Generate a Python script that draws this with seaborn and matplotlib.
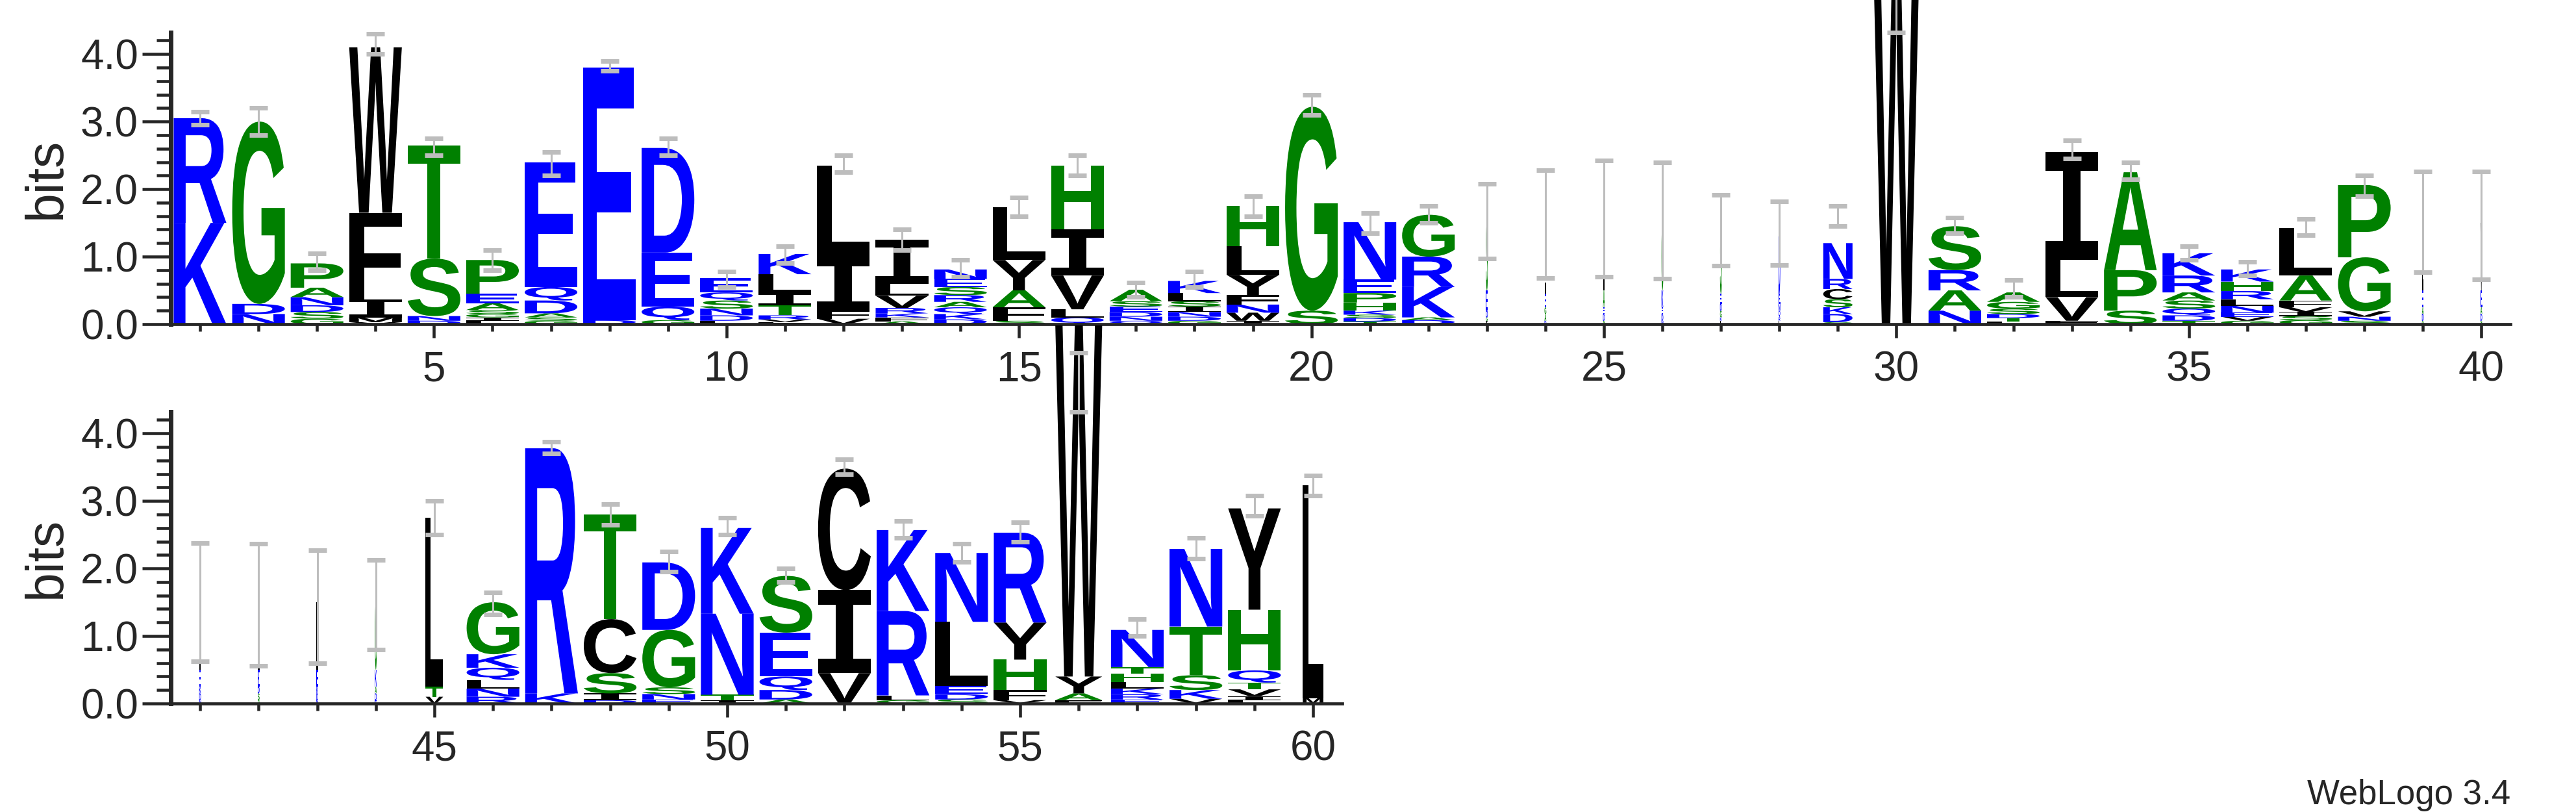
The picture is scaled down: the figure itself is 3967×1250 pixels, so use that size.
import matplotlib
matplotlib.use("Agg")
import matplotlib.pyplot as plt
import seaborn as sns
import numpy as np
from matplotlib.textpath import TextPath
from matplotlib.patches import PathPatch
from matplotlib.transforms import Affine2D
from matplotlib.font_manager import FontProperties, findfont

# --- DATA (letters bottom->top, heights in bits) ---
positions = list(range(1, 61))
stacks = ['KR', 'NDG', 'GSDNAP', 'VMIFW', 'DNST', 'LIGSAEP', 'GSADQE', 'DE', 'GQED', 'LDNSQE',
          'FVRTILK', 'VFIL', 'AFKRVLI', 'DKQARSEN', 'SFAYL', 'QLVIH', 'QNDESA', 'GDNISLK', 'IWNFYLH', 'SG',
          'TDSKHPEN', 'DAKRG', 'IGDES', 'DAGEL', 'SDEAL', 'NDEKG', 'LKGDES', 'LRQNED', 'GDKSCRN', 'W',
          'NARS', 'LTDSGA', 'FVLI', 'SPA', 'TDQSARK', 'GVENLRHK', 'GSIVFAL', 'SNVGP', 'GDAEL', 'SDAEV',
          'NDKEL', 'GSDEL', 'NDKEL', 'EDAKG', 'VTL', 'RNLQKG', 'KR', 'DISCT', 'ENSGD', 'ITNK',
          'ADQES', 'VIC', 'GLRK', 'SDELN', 'VFHYR', 'FAYW', 'ERKLHTN', 'VKSTN', 'LIVTQHY', 'ML']
heights = [[1.5, 1.55], [.15, .15, 2.7], [.08, .1, .1, .12, .14, .36], [.03, .07, .27, 1.28, 2.45],
           [.05, .07, .85, 1.68], [.05, .05, .05, .06, .1, .14, .5], [.05, .05, .06, .19, .2, 1.85],
           [.06, 3.74], [.06, .2, .8, 1.55], [.05, .08, .1, .12, .12, .21],
           [.03, .04, .06, .15, .18, .28, .3], [.08, .12, .8, 1.35], [.04, .06, .06, .08, .18, .18, .65],
           [.07, .08, .1, .08, .1, .12, .12, .14], [.05, .2, .25, .45, .78], [.1, .12, .5, .68, .95],
           [.05, .06, .07, .08, .08, .17], [.05, .06, .07, .08, .08, .12, .18],
           [.05, .12, .12, .14, .3, .42, .6], [.2, 3.02],
           [.04, .05, .05, .06, .12, .14, .2, .85], [.06, .04, .45, .45, .62],
           [.05, .05, .1, .3, 1.0], [.05, .1, .1, .2, 1.0], [.05, .1, .1, .25, 1.0], [.05, .1, .1, .25, 1.0],
           [.05, .05, .1, .1, .15, .9], [.05, .05, .1, .1, .15, .85],
           [.03, .12, .1, .12, .15, .15, .53], [5.6],
           [.2, .3, .3, .65], [.04, .05, .06, .08, .1, .14], [.05, .35, .55, 1.6], [.2, .6, 1.45],
           [.05, .08, .1, .12, .12, .25, .33], [.05, .06, .06, .1, .1, .12, .14, .18],
           [.06, .06, .06, .07, .1, .37, .7], [.05, .06, .08, .8, 1.07],
           [.05, .1, .1, .25, 1.0], [.05, .1, .1, .25, 1.0],
           [.05, .1, .1, .25, 1.0], [.05, .1, .1, .25, 1.0], [.05, .1, .1, .25, 1.0], [.05, .1, .1, .25, 1.0],
           [.1, .15, 2.5], [.1, .12, .13, .18, .2, .77], [.15, 3.63], [.05, .1, .3, .8, 1.55],
           [.06, .08, .1, .85, 1.0], [.05, .08, 1.2, 1.27], [.06, .14, .2, .65, .84], [.45, 1.23, 1.8],
           [.05, .07, 1.25, 1.2], [.06, .08, .12, .95, 1.02], [.05, .15, .45, .55, 1.33], [.05, .1, .25, 5.2],
           [.06, .08, .08, .1, .12, .1, .55], [.07, .13, .22, .72, 1.15], [.05, .06, .1, .1, .18, .9, 1.5],
           [.08, 3.15]]
col_widths = [.9] * 22 + [.03] * 6 + [.5, .8] + [.9] * 8 + [.03] * 6 + [.3] + [.9] * 10 + [.8, .9, .9, .9, .35]
err_lo = [2.95, 2.8, .8, 4.0, 2.5, .8, 2.2, 3.75, 2.5, .55, .9, 2.25, 1.1, .7, 1.6, 2.2, .4, .55, 1.6, 3.1,
          1.35, 1.5, .97, .68, .7, .67, .87, .88, 1.45, 4.32, 1.35, .4, 2.45, 2.15, .95, .72, 1.32, 1.9, .77, .66,
          .63, .56, .6, .8, 2.5, 1.32, 3.7, 2.65, 1.95, 2.5, 1.8, 3.4, 2.45, 2.1, 2.4, 4.32, 1.0, 2.15, 2.78, 3.08]
err_hi = [3.15, 3.2, 1.05, 4.3, 2.75, 1.1, 2.55, 3.9, 2.75, .78, 1.15, 2.5, 1.4, .95, 1.88, 2.5, .62, .78, 1.9, 3.4,
          1.65, 1.75, 2.08, 2.28, 2.42, 2.4, 1.91, 1.82, 1.75, 5.2, 1.58, .65, 2.72, 2.4, 1.15, .92, 1.56, 2.2, 2.26, 2.26,
          2.38, 2.37, 2.27, 2.13, 3.0, 1.65, 3.88, 2.95, 2.25, 2.75, 2.0, 3.62, 2.7, 2.37, 2.68, 5.2, 1.25, 2.45, 3.08, 3.38]

GREEN, BLUE, BLACK = '#008000', '#0000ff', '#000000'
colors = {}
for c in 'GSTAPH':
    colors[c] = GREEN
for c in 'KRDENQ':
    colors[c] = BLUE

sns.set_style('ticks')


def pick_font(names):
    for n in names:
        try:
            findfont(FontProperties(family=n), fallback_to_default=False)
            return n
        except Exception:
            pass
    return 'DejaVu Sans'


tick_font = pick_font(['Liberation Sans Narrow', 'Liberation Sans', 'DejaVu Sans'])
text_font = pick_font(['Liberation Sans', 'DejaVu Sans'])
plt.rcParams['font.family'] = [text_font, 'DejaVu Sans']
LETTER_FONT = FontProperties(family=text_font, weight='bold')
# the logo's I has serifs, a mono face gives that shape
SERIF_I_FONT = FontProperties(family='DejaVu Sans Mono', weight='bold')


def draw_letter(ax, ch, x, y, w, h, color):
    if h <= 0:
        return
    prop = SERIF_I_FONT if ch == 'I' else LETTER_FONT
    tp = TextPath((0, 0), ch, size=1, prop=prop)
    bb = tp.get_extents()
    tr = Affine2D().translate(-bb.x0, -bb.y0).scale(w / bb.width, h / bb.height).translate(x - w / 2, y)
    ax.add_patch(PathPatch(tr.transform_path(tp), fc=color, ec='none', clip_on=False, zorder=2))


fig = plt.figure(figsize=(39.67, 12.5), dpi=100)
ax_top = fig.add_axes([0.0663, 0.6008, 0.9083, 0.3592])
ax_bot = fig.add_axes([0.0663, 0.1336, 0.4548, 0.3592])

for ax, lo, hi in [(ax_top, 1, 40), (ax_bot, 41, 60)]:
    ax.set_facecolor('none')
    for i in range(lo - 1, hi):
        p = positions[i]
        y = 0.0
        for ch, h in zip(stacks[i], heights[i]):
            draw_letter(ax, ch, p, y, col_widths[i], h, colors.get(ch, BLACK))
            y += h
    idx = slice(lo - 1, hi)
    lo_arr = np.array(err_lo[idx])
    hi_arr = np.array(err_hi[idx])
    ax.errorbar(positions[idx], (lo_arr + hi_arr) / 2, yerr=(hi_arr - lo_arr) / 2, fmt='none',
                ecolor='#bdbdbd', elinewidth=2.2, capsize=10, capthick=5, zorder=3, clip_on=False)
    ax.set_xlim(lo - 0.5, hi + 0.5)
    ax.set_ylim(0, 4.32)
    ax.set_yticks([0, 1, 2, 3, 4])
    ax.set_yticklabels(['0.0', '1.0', '2.0', '3.0', '4.0'], fontfamily=tick_font, fontsize=46)
    ax.set_yticks(np.arange(0, 4.3, 0.2), minor=True)
    major_x = [p for p in range(lo, hi + 1) if p % 5 == 0]
    ax.set_xticks(major_x)
    ax.set_xticklabels([str(p) for p in major_x], fontfamily=tick_font, fontsize=46)
    ax.set_xticks([p for p in range(lo, hi + 1)], minor=True)
    ax.tick_params(axis='y', which='major', length=32, width=3.3, pad=4)
    ax.tick_params(axis='y', which='minor', length=16, width=3.3)
    ax.tick_params(axis='x', which='major', length=15, width=3.3, pad=14)
    ax.tick_params(axis='x', which='minor', length=8, width=3.3)
    ax.set_ylabel('bits', fontsize=58, labelpad=10)
    sns.despine(ax=ax)
    ax.spines['left'].set_linewidth(5)
    ax.spines['bottom'].set_linewidth(3.4)

fig.text(3866 / 3967, 1 - 1238 / 1250, 'WebLogo 3.4', ha='right', va='baseline', fontsize=38)
fig.savefig('out.png', dpi=100)
